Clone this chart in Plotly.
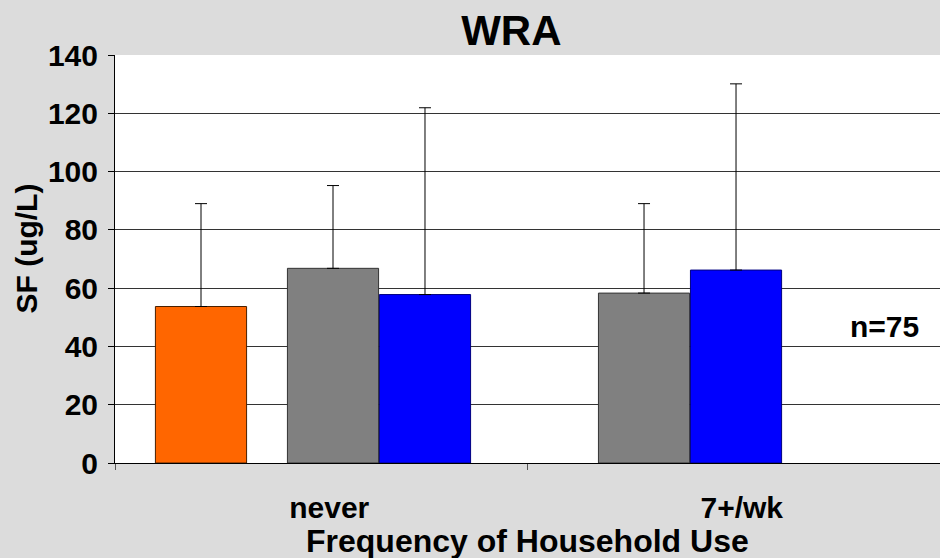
import plotly.graph_objects as go

categories = ["never", "7+/wk"]
orange_x = ["never"]
orange_y = [53.7]
orange_err = [35.3]
gray_y = [66.8, 58.3]
gray_err = [28.4, 30.7]
blue_y = [57.8, 66.2]
blue_err = [64.1, 63.9]
y_ticks = [0, 20, 40, 60, 80, 100, 120, 140]

def bold(size):
    return dict(family="Arial, Liberation Sans, sans-serif", color="black", size=size, weight="bold")

def err(vals):
    return dict(type="data", array=vals, arrayminus=[0] * len(vals), symmetric=False,
                color="black", thickness=1, width=6)

fig = go.Figure()
fig.add_trace(go.Bar(x=orange_x, y=orange_y, error_y=err(orange_err),
                     marker=dict(color="#ff6600", line=dict(color="#4a2000", width=1)),
                     offset=[-0.402], width=0.221, name="orange"))
fig.add_trace(go.Bar(x=categories, y=gray_y, error_y=err(gray_err),
                     marker=dict(color="#808080", line=dict(color="#333333", width=1)),
                     offset=[-0.082, -0.328], width=0.221, name="gray"))
fig.add_trace(go.Bar(x=categories, y=blue_y, error_y=err(blue_err),
                     marker=dict(color="#0000ff", line=dict(color="#000080", width=1)),
                     offset=[0.141, -0.105], width=0.221, name="blue"))

fig.add_annotation(x=1.366, y=47, xref="x", yref="y", text="n=75", showarrow=False,
                   font=bold(30))
# axis titles
fig.add_annotation(x=0.5, y=-0.19, xref="paper", yref="paper", text="Frequency of Household Use",
                   showarrow=False, yanchor="middle", font=bold(32))
fig.add_annotation(x=-0.107, y=0.525, xref="paper", yref="paper", text="SF (ug/L)",
                   showarrow=False, textangle=-90, xanchor="center", yanchor="middle", font=bold(30))

fig.update_layout(
    width=940, height=558,
    margin=dict(l=115, r=0, t=55, b=95),
    paper_bgcolor="#dcdcdc", plot_bgcolor="white",
    showlegend=False, barmode="overlay",
    title=dict(text="WRA", x=0.544, xanchor="center", y=0.946, yanchor="middle",
               font=bold(42)),
)
fig.update_xaxes(type="category", categoryorder="array", categoryarray=categories,
                 range=[-0.5, 1.5], tickson="boundaries", ticks="outside", ticklen=6,
                 tickcolor="#555", showline=True, linecolor="black", linewidth=1,
                 showgrid=False, ticklabelstandoff=18, ticklabelshift=8,
                 tickfont=bold(30), automargin=False)
fig.update_yaxes(range=[0, 140], tickvals=y_ticks,
                 ticks="outside", ticklen=6, tickcolor="black", showline=True,
                 linecolor="black", linewidth=1, showgrid=True, gridcolor="#333",
                 gridwidth=1, tickfont=bold(30), zeroline=False, automargin=False,
                 ticklabelstandoff=4)

fig.write_html("out.html", config={"displayModeBar": False},
               post_script="document.body.style.margin='0';")
